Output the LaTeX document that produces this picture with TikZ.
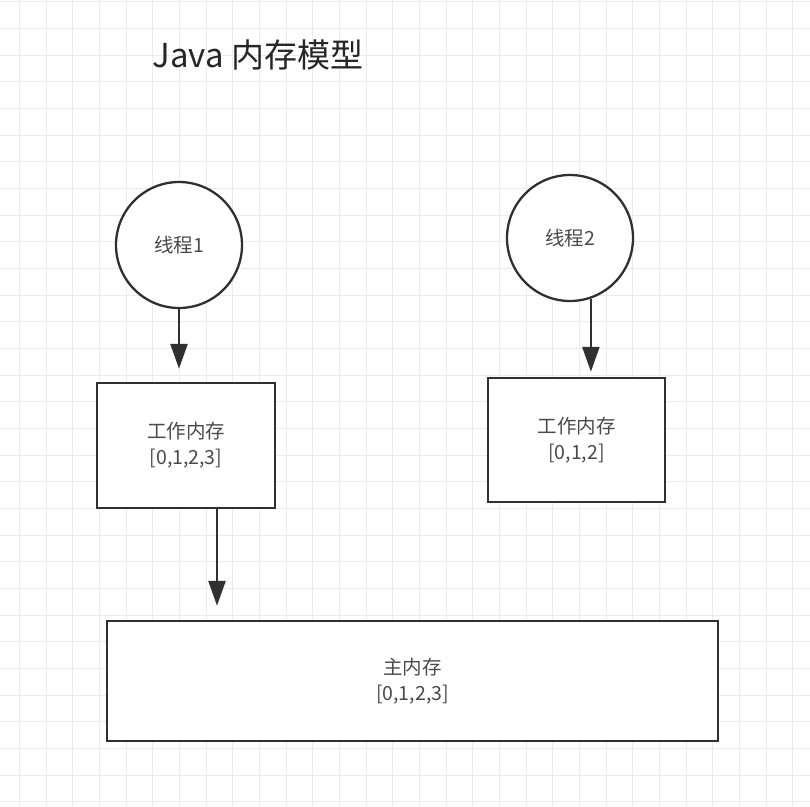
\documentclass[tikz,border=0pt]{standalone}
\usepackage{fontspec}
\setmainfont{Noto Sans CJK SC}
\usetikzlibrary{arrows.meta}
\definecolor{gridc}{HTML}{EBEBEB}
\definecolor{linec}{HTML}{303030}
\definecolor{txtc}{HTML}{4A4A4A}
\tikzset{
  thread/.style={circle, draw=linec, line width=2.3pt, fill=white, minimum size=126pt, inner sep=0pt, font=\fontsize{19.5}{22}\selectfont, text=txtc},
  membox/.style={rectangle, draw=linec, line width=2.5pt, fill=white, inner sep=0pt, align=center, font=\fontsize{19.5}{26}\selectfont, text=txtc},
  arr/.style={draw=linec, line width=2.6pt, -{Triangle[length=25pt,width=17pt]}},
  title/.style={font=\fontsize{33}{38}\selectfont, text=black!85}
}
\begin{document}
\begin{tikzpicture}[x=1pt,y=-1pt]
\useasboundingbox (0,0) rectangle (810,806);
\fill[white] (0,0) rectangle (810,806);
\foreach \i in {0,...,30} {
  \draw[gridc, line width=1pt] ({19.5+26.67*\i},0) -- ({19.5+26.67*\i},806);
  \draw[gridc, line width=1pt] (0,{1.7+26.67*\i}) -- (810,{1.7+26.67*\i});
}
\node[title] (t) at (258,55) {Java 内存模型};
\node[thread] (c1) at (179,245) {线程1};
\node[thread] (c2) at (570,238) {线程2};
\node[membox, minimum width=178pt, minimum height=125pt] (b1) at (186,445.5) {工作内存\\{}[0,1,2,3]};
\node[membox, minimum width=177pt, minimum height=124pt] (b2) at (576.5,440) {工作内存\\{}[0,1,2]};
\node[membox, minimum width=611pt, minimum height=120pt] (mb) at (412.5,681) {主内存\\{}[0,1,2,3]};
\draw[arr, shorten >=13pt] (c1.south) -- (c1.south |- b1.north);
\draw[arr, shorten >=5pt] (c2.-71.5) -- (c2.-71.5 |- b2.north);
\coordinate (s2) at ([xshift=31pt]b1.south);
\draw[arr, shorten >=14pt] (s2) -- (s2 |- mb.north);
\end{tikzpicture}
\end{document}
